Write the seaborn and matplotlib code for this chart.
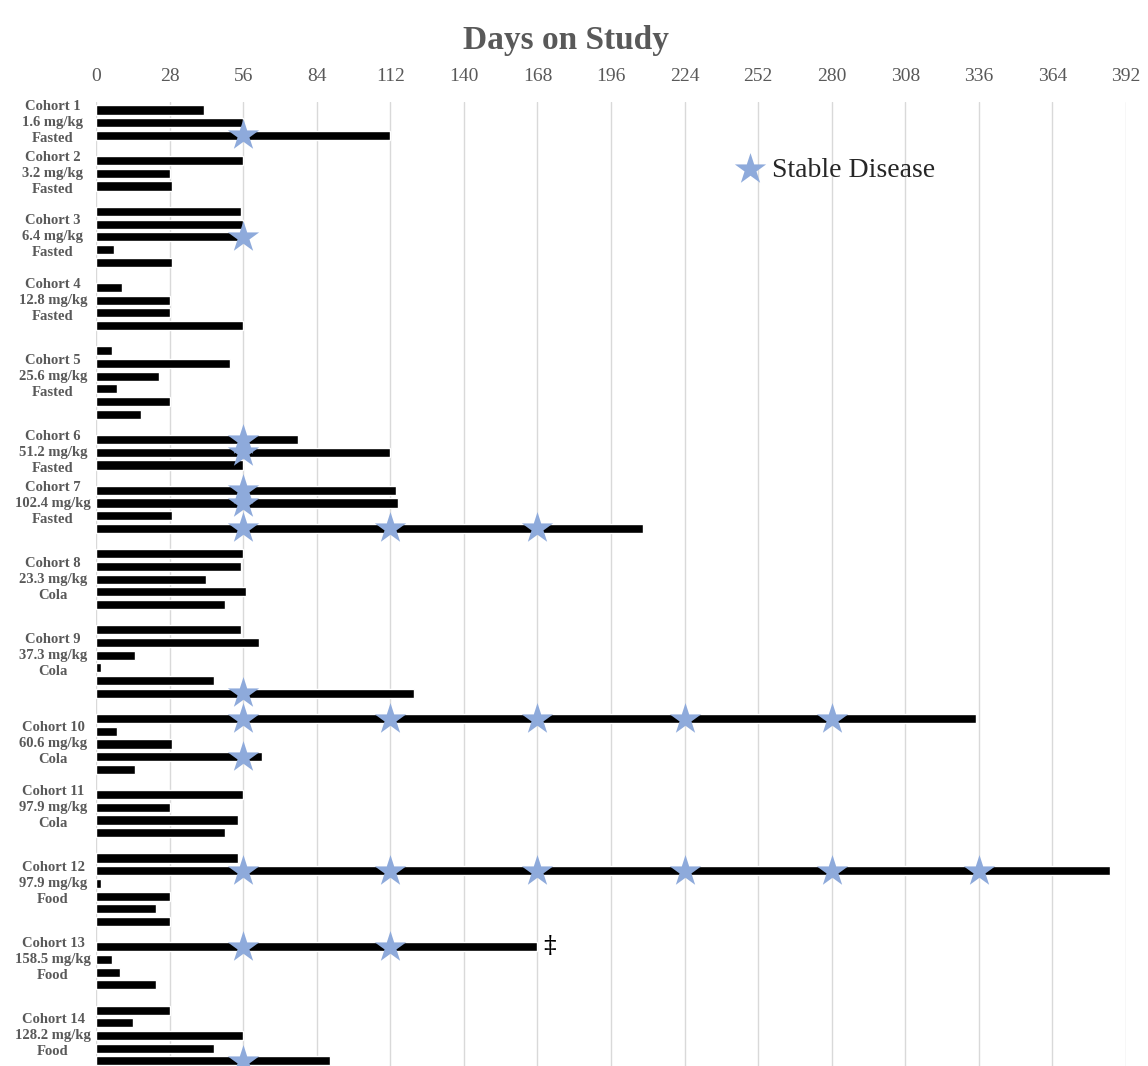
import matplotlib
matplotlib.use("Agg")
import matplotlib.pyplot as plt
import matplotlib.transforms as mtransforms
import numpy as np
import pandas as pd
import seaborn as sns

# Cohort descriptions
cohort_names = ["Cohort 1", "Cohort 2", "Cohort 3", "Cohort 4", "Cohort 5", "Cohort 6",
                "Cohort 7", "Cohort 8", "Cohort 9", "Cohort 10", "Cohort 11", "Cohort 12",
                "Cohort 13", "Cohort 14"]
doses = ["1.6 mg/kg", "3.2 mg/kg", "6.4 mg/kg", "12.8 mg/kg", "25.6 mg/kg", "51.2 mg/kg",
         "102.4 mg/kg", "23.3 mg/kg", "37.3 mg/kg", "60.6 mg/kg", "97.9 mg/kg", "97.9 mg/kg",
         "158.5 mg/kg", "128.2 mg/kg"]
conditions = ["Fasted", "Fasted", "Fasted", "Fasted", "Fasted", "Fasted", "Fasted",
              "Cola", "Cola", "Cola", "Cola", "Food", "Food", "Food"]

# Days on study for each patient, per cohort
days_c1 = [41, 56, 112]
days_c2 = [56, 28, 29]
days_c3 = [55, 56, 56, 7, 29]
days_c4 = [10, 28, 28, 56]
days_c5 = [6, 51, 24, 8, 28, 17]
days_c6 = [77, 112, 56]
days_c7 = [114, 115, 29, 208]
days_c8 = [56, 55, 42, 57, 49]
days_c9 = [55, 62, 15, 2, 45, 121]
days_c10 = [335, 8, 29, 63, 15]
days_c11 = [56, 28, 54, 49]
days_c12 = [54, 386, 2, 28, 23, 28]
days_c13 = [168, 6, 9, 23]
days_c14 = [28, 14, 56, 45, 89]

# Stable disease assessments: cohort number, patient number within cohort, assessment days
sd_cohort = [1, 3, 6, 6, 7, 7, 7, 9, 10, 10, 12, 13, 14]
sd_patient = [3, 3, 1, 2, 1, 2, 4, 6, 1, 4, 2, 1, 5]
sd_days = [[56], [56], [56], [56], [56], [56], [56, 112, 168], [56],
           [56, 112, 168, 224, 280], [56], [56, 112, 168, 224, 280, 336],
           [56, 112], [56]]

# Patient still on study
ongoing_cohort = 13
ongoing_patient = 1

x_ticks = list(range(0, 393, 28))

all_days = [days_c1, days_c2, days_c3, days_c4, days_c5, days_c6, days_c7,
            days_c8, days_c9, days_c10, days_c11, days_c12, days_c13, days_c14]

# Lay out one row per patient with a blank row between cohorts
rows = []
label_rows = []
cohort_start = []
pos = 0
for ci, days in enumerate(all_days):
    cohort_start.append(pos)
    label_rows.append(pos + (len(days) - 1) // 2)
    for pi, d in enumerate(days):
        rows.append({"cohort": ci + 1, "patient": pi + 1, "pos": pos, "days": d})
        pos += 1
    pos += 1
df = pd.DataFrame(rows)

sd_rows = []
for c, p, dl in zip(sd_cohort, sd_patient, sd_days):
    r = cohort_start[c - 1] + p - 1
    for d in dl:
        sd_rows.append({"pos": r, "days": d})
sd_df = pd.DataFrame(sd_rows)

sns.set_style("white")
plt.rcParams["font.family"] = ["Liberation Serif", "DejaVu Serif"]

W, H = 1148, 1066
fig = plt.figure(figsize=(W / 100, H / 100), dpi=100)
ax = fig.add_axes([96 / W, 0, (1126 - 96) / W, (H - 102) / H])

sns.barplot(data=df, x="days", y="pos", orient="h", native_scale=True,
            color="black", saturation=1, width=0.72, ax=ax, zorder=2)

sns.scatterplot(data=sd_df, x="days", y="pos", marker="*", s=560,
                color="#8EAADB", linewidth=0, ax=ax, zorder=3,
                label="Stable Disease")

# Ongoing marker
ong_row = cohort_start[ongoing_cohort - 1] + ongoing_patient - 1
ong_days = all_days[ongoing_cohort - 1][ongoing_patient - 1]
ax.text(ong_days + 4.5, ong_row, "\u2021", fontsize=18, ha="center", va="center",
        color="black", family=["DejaVu Serif"])

ax.set_xlim(0, 392)
ax.set_ylim(75.4, -0.63)
ax.set_xticks(x_ticks)
ax.set_xticklabels([str(t) for t in x_ticks])
ax.xaxis.tick_top()
ax.tick_params(axis="x", length=0, pad=12, labelsize=14, labelcolor="#595959")
ax.set_yticks([])
ax.set_xlabel("")
ax.set_ylabel("")
ax.grid(axis="x", color="#d9d9d9", linewidth=1)
ax.grid(axis="y", visible=False)
ax.set_axisbelow(True)
for s in ax.spines.values():
    s.set_visible(False)

# Cohort labels
trans = mtransforms.blended_transform_factory(fig.transFigure, ax.transData)
for name, dose, cond, r in zip(cohort_names, doses, conditions, label_rows):
    ax.text(53 / W, r, f"{name}\n{dose}\n{cond}", transform=trans, ha="center",
            va="center", fontsize=10.5, fontweight="bold", color="#595959",
            linespacing=1.3)

fig.text(566 / W, 1 - 40 / H, "Days on Study", ha="center", va="center",
         fontsize=24, fontweight="bold", color="#595959")

ax.legend(loc="center left", bbox_to_anchor=(736 / W, 1 - 170 / H),
          bbox_transform=fig.transFigure, frameon=False, borderpad=0,
          borderaxespad=0, handlelength=1.0, handletextpad=0.3,
          prop={"family": "Liberation Serif", "size": 20}, markerscale=1)

fig.savefig("out.png", dpi=100)
